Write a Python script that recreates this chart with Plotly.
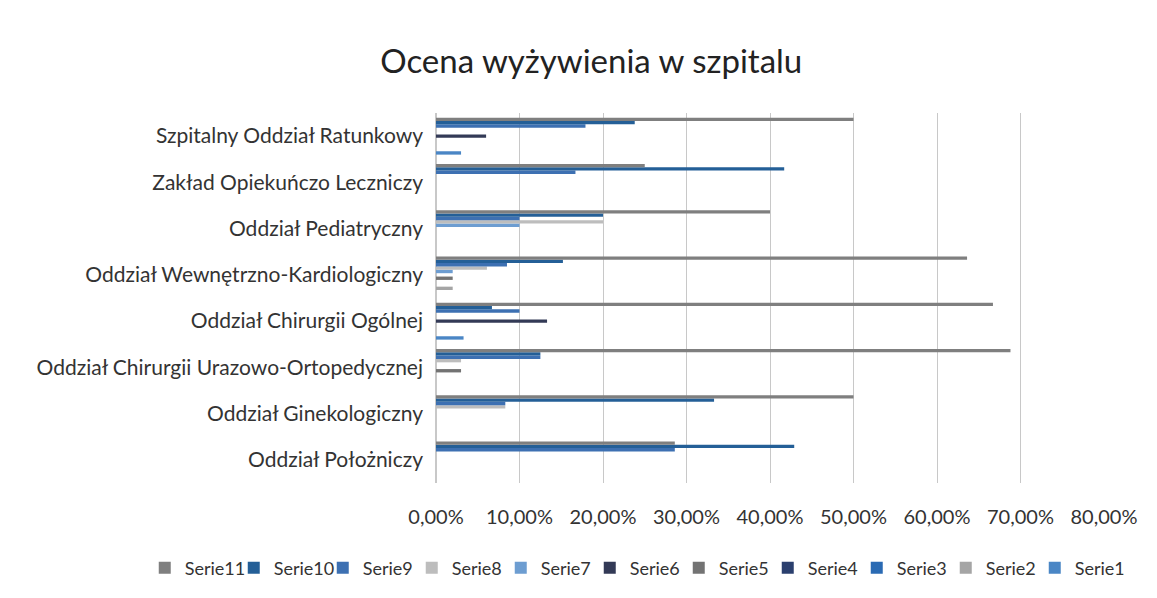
import plotly.graph_objects as go

# categories listed bottom -> top (plotly draws the first category at the bottom)
categories = [
    'Oddział Położniczy',
    'Oddział Ginekologiczny',
    'Oddział Chirurgii Urazowo-Ortopedycznej',
    'Oddział Chirurgii Ogólnej',
    'Oddział Wewnętrzno-Kardiologiczny',
    'Oddział Pediatryczny',
    'Zakład Opiekuńczo Leczniczy',
    'Szpitalny Oddział Ratunkowy',
]

serie1 = [0, 0, 0, 0.033, 0, 0, 0, 0.03]
serie2 = [0, 0, 0, 0, 0.02, 0, 0, 0]
serie3 = [0, 0, 0, 0, 0, 0, 0, 0]
serie4 = [0, 0, 0, 0, 0, 0, 0, 0]
serie5 = [0, 0, 0.03, 0, 0.02, 0, 0, 0]
serie6 = [0, 0, 0, 0.133, 0, 0, 0, 0.06]
serie7 = [0, 0, 0, 0, 0.02, 0.10, 0, 0]
serie8 = [0, 0.083, 0.03, 0, 0.061, 0.20, 0, 0]
serie9 = [0.286, 0.083, 0.125, 0.10, 0.085, 0.10, 0.167, 0.179]
serie10 = [0.429, 0.333, 0.125, 0.067, 0.152, 0.20, 0.417, 0.238]
serie11 = [0.286, 0.50, 0.688, 0.667, 0.636, 0.40, 0.25, 0.50]

series = [
    ('Serie1', serie1, '#4a86c5'),
    ('Serie2', serie2, '#a5a5a5'),
    ('Serie3', serie3, '#2a6ab3'),
    ('Serie4', serie4, '#2b3f6e'),
    ('Serie5', serie5, '#737373'),
    ('Serie6', serie6, '#333a56'),
    ('Serie7', serie7, '#6d9dd1'),
    ('Serie8', serie8, '#bdbdbd'),
    ('Serie9', serie9, '#3d70b2'),
    ('Serie10', serie10, '#245f97'),
    ('Serie11', serie11, '#7f7f7f'),
]

fig = go.Figure()
for name, vals, color in series:
    fig.add_trace(go.Bar(
        y=categories,
        x=vals,
        name=name,
        orientation='h',
        marker=dict(color=color, line=dict(width=0)),
    ))

font = 'Lato, Calibri, Arial, sans-serif'
fig.update_layout(
    barmode='group',
    bargap=0.2,
    bargroupgap=0,
    width=1157,
    height=598,
    separators=', ',
    paper_bgcolor='white',
    plot_bgcolor='white',
    font=dict(family=font, size=21, color='#333333'),
    title=dict(text='Ocena wyżywienia w szpitalu', x=0.511, xanchor='center', y=0.897, yanchor='middle',
               font=dict(size=33, color='#222222', family=font)),
    margin=dict(l=436, r=53, t=113, b=106),
    xaxis=dict(range=[0, 0.8], dtick=0.1, tickformat='.2%', showgrid=True, gridcolor='#c8c8c8', gridwidth=1,
               zeroline=True, zerolinecolor='#c8c8c8', ticks='', ticklabelstandoff=20, tickangle=0,
               tickfont=dict(size=20, color='#333333')),
    yaxis=dict(showgrid=False, ticks='', ticklabelstandoff=12, tickfont=dict(size=21, color='#333333')),
    # legend sits left of the plot area (x < 0) so it may use the full figure width in one row
    legend=dict(orientation='h', x=-0.436, xanchor='left', y=-0.23, yanchor='middle',
                traceorder='reversed', font=dict(size=18, color='#333333'), itemwidth=30,
                entrywidth=44, entrywidthmode='pixels'),
)

# drop the default 8px page margin so the figure fills the window exactly
fig.write_html('out.html', config={'displayModeBar': False},
               post_script="document.body.style.margin='0';")
